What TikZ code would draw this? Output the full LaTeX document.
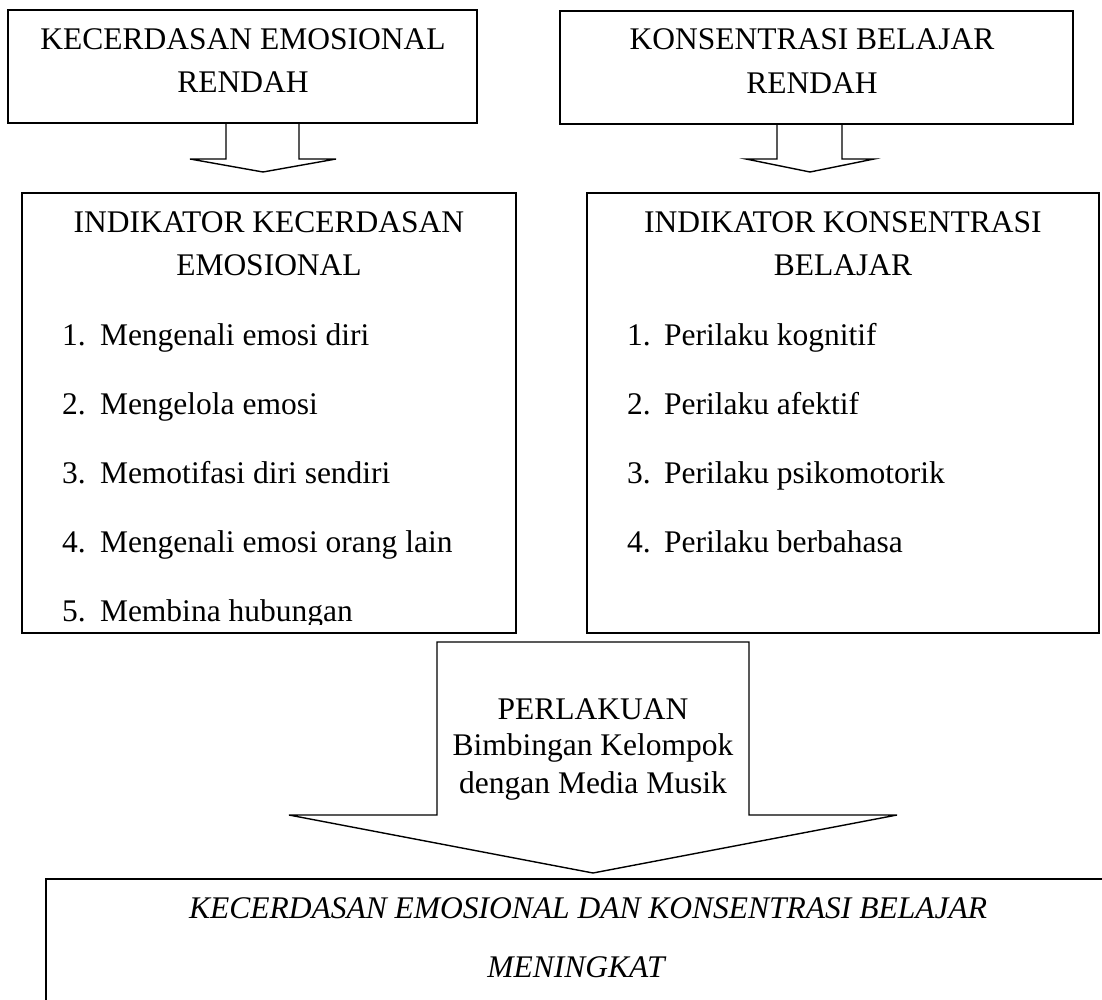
\documentclass[tikz,border=0pt]{standalone}
\usepackage{fontspec}
\setmainfont{Liberation Serif}
\begin{document}
\begin{tikzpicture}[x=1pt,y=-1pt,
  boxst/.style={draw=black, line width=1.4pt, fill=none, inner sep=0pt, outer sep=0pt},
  txt/.style={inner sep=0pt, outer sep=0pt, font=\fontsize{31.5}{38}\selectfont},
  blockarrow/.style={draw=black, line width=1.4pt, line join=miter}]
\useasboundingbox (0,0) rectangle (1102,1000);
\clip (0,0) rectangle (1102,1000);
\fill[white] (0,0) rectangle (1102,1000);

% top boxes
\node[boxst, minimum width=469pt, minimum height=113pt, anchor=north west] (b1) at (8,10) {};
\node[txt, anchor=base] (b1t1) at (243,50) {KECERDASAN EMOSIONAL};
\node[txt, anchor=base] (b1t2) at (243,93) {RENDAH};

\node[boxst, minimum width=513pt, minimum height=113pt, anchor=north west] (b2) at (560,11) {};
\node[txt, anchor=base] (b2t1) at (812,50) {KONSENTRASI BELAJAR};
\node[txt, anchor=base] (b2t2) at (812,94) {RENDAH};

% indicator boxes
\node[boxst, minimum width=494pt, minimum height=440pt, anchor=north west] (b3) at (22,193) {};
\node[txt, anchor=base] (b3t1) at (269,233) {INDIKATOR KECERDASAN};
\node[txt, anchor=base] (b3t2) at (269,275) {EMOSIONAL};
\node[txt, anchor=base west] (l1n) at (62,345) {1.};
\node[txt, anchor=base west] (l1) at (100,345) {Mengenali emosi diri};
\node[txt, anchor=base west] (l2n) at (62,414) {2.};
\node[txt, anchor=base west] (l2) at (100,414) {Mengelola emosi};
\node[txt, anchor=base west] (l3n) at (62,483) {3.};
\node[txt, anchor=base west] (l3) at (100,483) {Memotifasi diri sendiri};
\node[txt, anchor=base west] (l4n) at (62,552) {4.};
\node[txt, anchor=base west] (l4) at (100,552) {Mengenali emosi orang lain};
\begin{scope}
\clip (22,580) rectangle (516,624);
\node[txt, anchor=base west] (l5n) at (62,621) {5.};
\node[txt, anchor=base west] (l5) at (100,621) {Membina hubungan};
\end{scope}

\node[boxst, minimum width=512pt, minimum height=440pt, anchor=north west] (b4) at (587,193) {};
\node[txt, anchor=base] (b4t1) at (843,233) {INDIKATOR KONSENTRASI};
\node[txt, anchor=base] (b4t2) at (843,275) {BELAJAR};
\node[txt, anchor=base west] (r1n) at (627,345) {1.};
\node[txt, anchor=base west] (r1) at (664,345) {Perilaku kognitif};
\node[txt, anchor=base west] (r2n) at (627,414) {2.};
\node[txt, anchor=base west] (r2) at (664,414) {Perilaku afektif};
\node[txt, anchor=base west] (r3n) at (627,483) {3.};
\node[txt, anchor=base west] (r3) at (664,483) {Perilaku psikomotorik};
\node[txt, anchor=base west] (r4n) at (627,552) {4.};
\node[txt, anchor=base west] (r4) at (664,552) {Perilaku berbahasa};

% block arrows from top boxes to indicator boxes
\coordinate (a1tip) at (263,172);
\coordinate (a2tip) at (810,172);
\draw[blockarrow] (b1.south -| 226,0) -- (226,159) -- (190,159) -- (a1tip) -- (336,159) -- (299,159) -- (b1.south -| 299,0);
\draw[blockarrow] (b2.south -| 777,0) -- (777,159) -- (746,159) -- (a2tip) -- (874,159) -- (842,159) -- (b2.south -| 842,0);

% treatment arrow
\coordinate (a3tip) at (593,873);
\draw[blockarrow] (437,642) -- (749,642) -- (749,815) -- (897,815) -- (a3tip) -- (289,815) -- (437,815) -- cycle;
\node[txt, anchor=base] (p1) at (593,719) {PERLAKUAN};
\node[txt, anchor=base] (p2) at (593,755) {Bimbingan Kelompok};
\node[txt, anchor=base] (p3) at (593,793) {dengan Media Musik};

% bottom result box
\node[boxst, minimum width=1104pt, minimum height=260pt, anchor=north west] (b6) at (46,879) {};
\draw[line width=2.6pt] (b6.north west) -- (b6.north east);
\node[txt, anchor=base, font=\fontsize{31.5}{38}\selectfont\itshape] (r6t1) at (588,918) {KECERDASAN EMOSIONAL DAN KONSENTRASI BELAJAR};
\node[txt, anchor=base, font=\fontsize{31.5}{38}\selectfont\itshape] (r6t2) at (576,977) {MENINGKAT};
\end{tikzpicture}
\end{document}
